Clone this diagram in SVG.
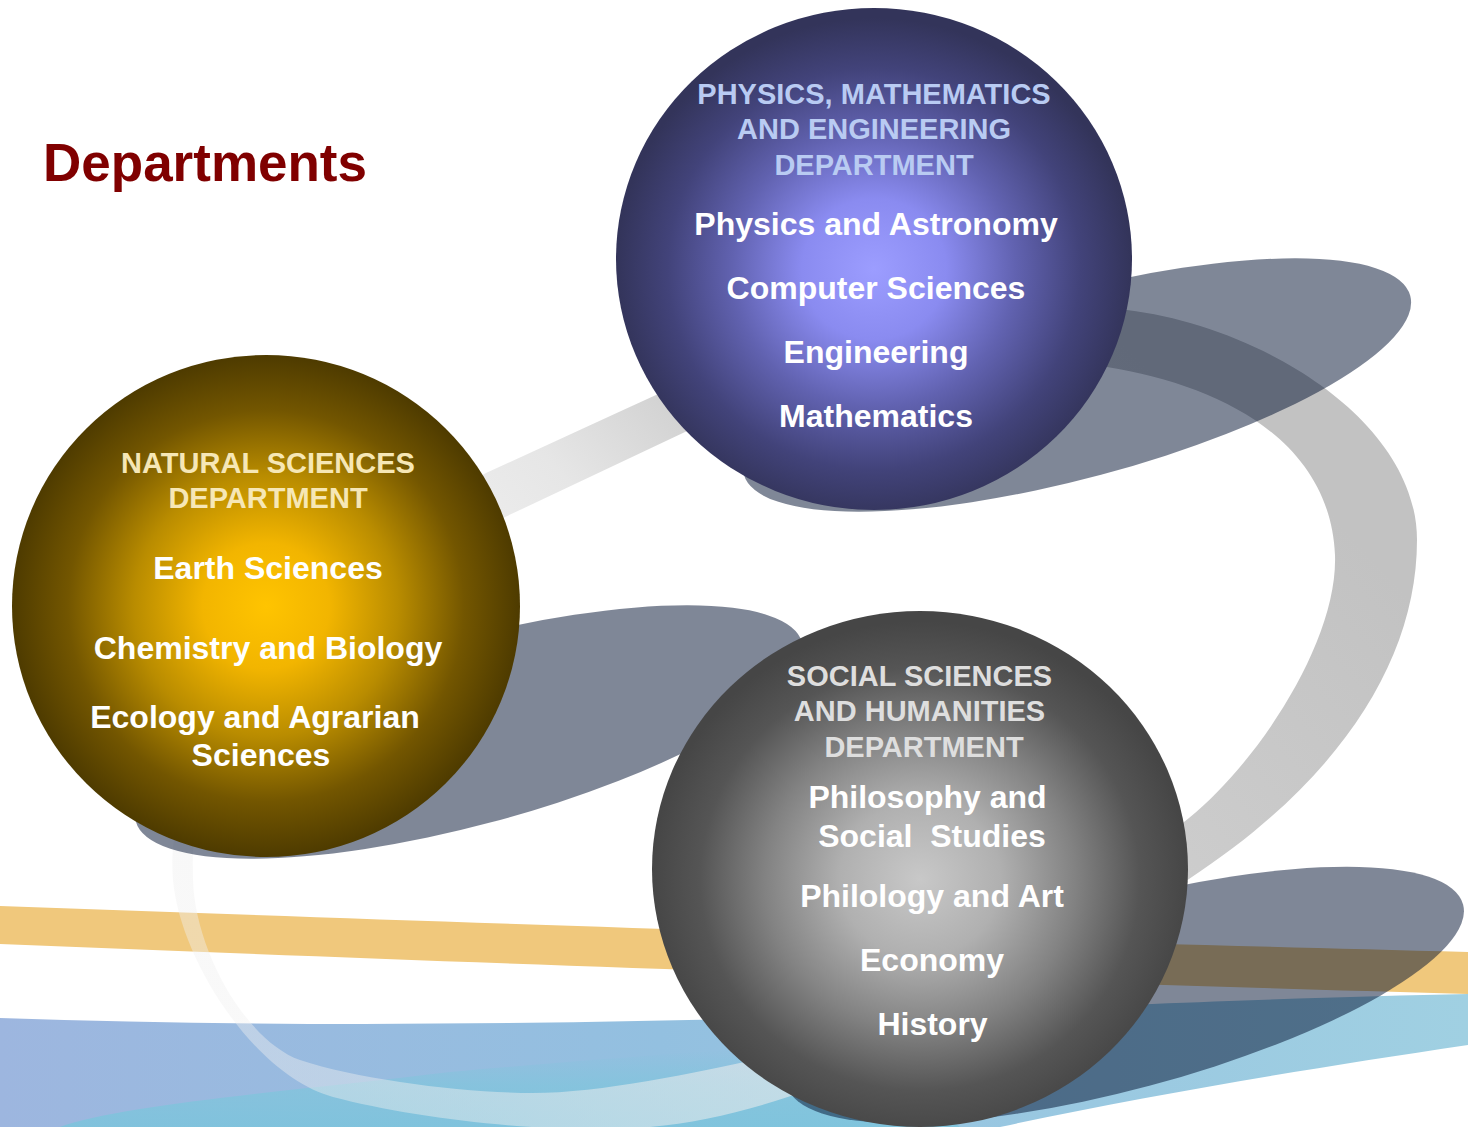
<svg xmlns="http://www.w3.org/2000/svg" width="1468" height="1127" viewBox="0 0 1468 1127">
<style>
text{font-family:"Liberation Sans",Arial,sans-serif;font-weight:bold;text-anchor:middle}
.hdr{font-size:29px}
.hb{fill:#b9cbf2}
.hg{fill:#f6e7b6}
.hs{fill:#dedede}
.item{font-size:32px;fill:#ffffff}
.shadow{fill:#001030;opacity:0.5}
</style>
<defs>
<radialGradient id="gBlue" cx="0.5" cy="0.52" r="0.5">
<stop offset="0" stop-color="#9c9dff"/>
<stop offset="0.28" stop-color="#8a8bf0"/>
<stop offset="0.55" stop-color="#6162b0"/>
<stop offset="0.8" stop-color="#42437a"/>
<stop offset="1" stop-color="#33345a"/>
</radialGradient>
<radialGradient id="gGold" cx="0.5" cy="0.5" r="0.5">
<stop offset="0" stop-color="#ffc400"/>
<stop offset="0.25" stop-color="#f2b500"/>
<stop offset="0.52" stop-color="#b98c00"/>
<stop offset="0.78" stop-color="#735600"/>
<stop offset="1" stop-color="#4e3b00"/>
</radialGradient>
<radialGradient id="gGray" cx="0.5" cy="0.52" r="0.5">
<stop offset="0" stop-color="#c8c8c8"/>
<stop offset="0.3" stop-color="#b0b0b0"/>
<stop offset="0.58" stop-color="#828282"/>
<stop offset="0.82" stop-color="#555555"/>
<stop offset="1" stop-color="#464646"/>
</radialGradient>
<linearGradient id="gRing" gradientUnits="userSpaceOnUse" x1="1300" y1="300" x2="400" y2="1150">
<stop offset="0.1" stop-color="#c2c2c2"/>
<stop offset="0.4" stop-color="#cdcdcd"/>
<stop offset="0.53" stop-color="#e6e6e6"/>
<stop offset="0.72" stop-color="#ececec" stop-opacity="0.6"/>
<stop offset="1" stop-color="#f0f0f0" stop-opacity="0.42"/>
</linearGradient>
<linearGradient id="gWave" gradientUnits="userSpaceOnUse" x1="0" y1="0" x2="1468" y2="0">
<stop offset="0" stop-color="#9db6df"/>
<stop offset="0.45" stop-color="#93c0e0"/>
<stop offset="1" stop-color="#a0d0e2"/>
</linearGradient>
<linearGradient id="gCyan" gradientUnits="userSpaceOnUse" x1="0" y1="1050" x2="0" y2="1127">
<stop offset="0" stop-color="#80c5dc" stop-opacity="0"/>
<stop offset="0.45" stop-color="#80c5dc" stop-opacity="0.7"/>
<stop offset="1" stop-color="#7cc4dc" stop-opacity="0.85"/>
</linearGradient>
</defs>

<g id="background">
<path d="M0,906 C400,920 800,935 1468,952 L1468,994 C800,975 400,960 0,944 Z" fill="#f0c87c"/>
<path d="M0,1018 C350,1030 700,1022 1000,1010 C1200,1002 1350,996 1468,994 L1468,1045 C1300,1070 1150,1095 1000,1127 L0,1127 Z" fill="url(#gWave)"/>
<path d="M60,1127 C120,1105 300,1090 450,1072 C560,1062 700,1052 850,1040 L960,1127 Z" fill="url(#gCyan)"/>
</g>

<g id="connectors">
<path fill="url(#gRing)" fill-rule="evenodd" d="M173,880 C167,810 200,640 486,473 C543,447 599,421 656,395 C760,347 1000,295 1127,310 C1260,326 1417,420 1417,540 C1417,660 1340,780 1189,879 C1068,958 850,1110 650,1127 C560,1135 420,1120 333,1097 C255,1076 180,960 173,880 Z M193,880 C191,810 200,640 505,517 C565,489 625,460 685,432 C790,382 1014,344 1107,367 C1220,385 1330,440 1335,555 C1338,640 1260,760 1189,818 C1079,908 897,1027 767,1057 C700,1072 600,1093 533,1093 C466,1093 360,1080 300,1060 C245,1040 195,950 193,880 Z"/>
</g>

<g id="node-natural">
<ellipse class="shadow" cx="469" cy="732" rx="345" ry="93" transform="rotate(-15 469 732)"/>
<ellipse cx="266" cy="606" rx="254" ry="251" fill="url(#gGold)"/>
<text class="hdr hg" x="268" y="473">NATURAL SCIENCES</text>
<text class="hdr hg" x="268" y="508">DEPARTMENT</text>
<text class="item" x="268" y="579">Earth Sciences</text>
<text class="item" x="268" y="659">Chemistry and Biology</text>
<text class="item" x="255" y="728">Ecology and Agrarian</text>
<text class="item" x="261" y="766">Sciences</text>
</g>

<g id="node-physics">
<ellipse class="shadow" cx="1077" cy="385" rx="345" ry="93" transform="rotate(-15 1077 385)"/>
<ellipse cx="874" cy="259" rx="258" ry="251" fill="url(#gBlue)"/>
<text class="hdr hb" x="874" y="104">PHYSICS, MATHEMATICS</text>
<text class="hdr hb" x="874" y="139">AND ENGINEERING</text>
<text class="hdr hb" x="874" y="175">DEPARTMENT</text>
<text class="item" x="876" y="235">Physics and Astronomy</text>
<text class="item" x="876" y="299">Computer Sciences</text>
<text class="item" x="876" y="363">Engineering</text>
<text class="item" x="876" y="427">Mathematics</text>
</g>

<g id="node-social">
<ellipse class="shadow" cx="1125" cy="995" rx="350" ry="94" transform="rotate(-15 1125 995)"/>
<ellipse cx="920" cy="869" rx="268" ry="258" fill="url(#gGray)"/>
<text class="hdr hs" x="919.5" y="686">SOCIAL SCIENCES</text>
<text class="hdr hs" x="919.5" y="721">AND HUMANITIES</text>
<text class="hdr hs" x="924" y="757">DEPARTMENT</text>
<text class="item" x="927.5" y="808">Philosophy and</text>
<text class="item" x="932" y="847" xml:space="preserve">Social  Studies</text>
<text class="item" x="932" y="907">Philology and Art</text>
<text class="item" x="932" y="971">Economy</text>
<text class="item" x="932.5" y="1035">History</text>
</g>

<g id="title">
<text x="43" y="181" style="text-anchor:start;font-size:53px;fill:#800000">Departments</text>
</g>
</svg>
